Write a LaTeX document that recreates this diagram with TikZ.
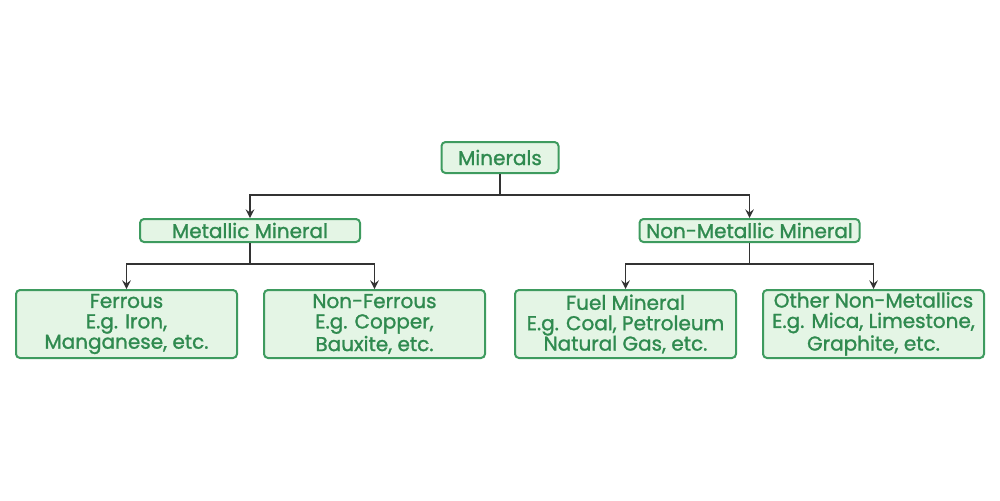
\documentclass[tikz,border=0pt]{standalone}
\usepackage{fontspec}
\setmainfont{Poppins}
\newfontfamily\boxfont{Poppins}[FakeBold=1.3]
\definecolor{boxgreen}{HTML}{3E9B5F}
\definecolor{boxfill}{HTML}{E4F5E5}
\definecolor{textgreen}{HTML}{2F8A4F}
\definecolor{linegray}{HTML}{333333}
\begin{document}
\begin{tikzpicture}[
    x=0.5pt, y=-0.5pt,
    every node/.style={font=\boxfont\fontsize{10}{10.2}\selectfont, align=center, text=textgreen},
    rootbox/.style={rectangle, rounded corners=2pt, draw=boxgreen, fill=boxfill,
                    line width=1pt, minimum width=58.5pt, minimum height=15.5pt,
                    inner sep=1pt},
    groupbox/.style={rootbox, minimum width=110pt, minimum height=11.5pt},
    leaf/.style={rootbox, minimum width=110.5pt, minimum height=34pt},
    link/.style={draw=linegray, line width=0.9pt},
    >=stealth,
]
\useasboundingbox (0,0) rectangle (1000,500);

% ---------- Root ----------
\node[rootbox] (root) at (500, 157.5) {Minerals};

% ---------- Groups ----------
\node[groupbox] (metal)    at (250, 230.5) {Metallic Mineral};
\node[groupbox] (nonmetal) at (749.5, 230.5) {Non-Metallic Mineral};

% ---------- Leaves ----------
\node[leaf] (ferrous)    at (126.5, 324) {Ferrous\\E.g. Iron,\\Manganese, etc.};
\node[leaf] (nonferrous) at (374.5, 324) {Non-Ferrous\\E.g. Copper,\\Bauxite, etc.};
\node[leaf] (fuel)       at (625.5, 324) {Fuel Mineral\\E.g. Coal, Petroleum\\Natural Gas, etc.};
\node[leaf] (other)      at (873.5, 324) {Other Non-Metallics\\E.g. Mica, Limestone,\\Graphite, etc.};

% ---------- Junctions ----------
\coordinate (j0) at (500, 195);
\coordinate (j1) at (250, 264);
\coordinate (j2) at (749.5, 264);

% ---------- Edges ----------
\draw[link] (root) -- (j0);
\draw[link, ->] (j0) -| (metal);
\draw[link, ->] (j0) -| (nonmetal);

\draw[link] (metal) -- (j1);
\draw[link, ->] (j1) -| (ferrous);
\draw[link, ->] (j1) -| (nonferrous);

\draw[link] (nonmetal) -- (j2);
\draw[link, ->] (j2) -| (fuel);
\draw[link, ->] (j2) -| (other);

\end{tikzpicture}
\end{document}
